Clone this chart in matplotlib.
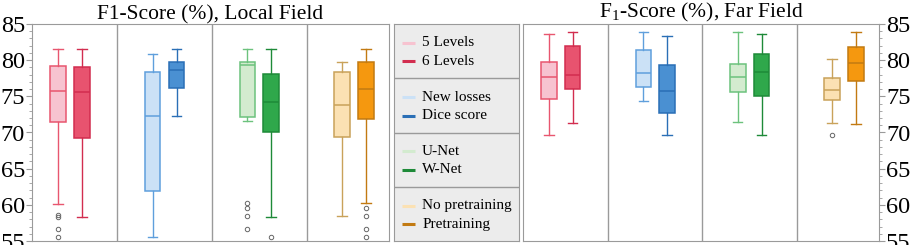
"""Box plots of F1-score, local field vs far field, with a shared legend panel in between."""
import matplotlib

matplotlib.use("Agg")
import matplotlib.pyplot as plt
from matplotlib.ticker import MultipleLocator

plt.rcParams["font.family"] = ["Liberation Serif", "DejaVu Serif"]
plt.rcParams["mathtext.fontset"] = "custom"
plt.rcParams["mathtext.rm"] = "Liberation Serif"

LABELS = ["5 Levels", "6 Levels", "New losses", "Dice score",
          "U-Net", "W-Net", "No pretraining", "Pretraining"]
FILLS = ["#f7c3d0", "#e8536f", "#cbe1f6", "#4a90d2",
         "#d3ebcf", "#2fa84b", "#fbe1b3", "#f5980f"]
EDGES = ["#e8566f", "#d22d4f", "#5f9fdc", "#2a6fb6",
         "#6cc27d", "#1e8a38", "#c9a25a", "#c27a12"]

# local field: whisker low, Q1, median, Q3, whisker high, outliers
LOCAL_LO = [60.1, 58.3, 55.6, 72.3, 71.6, 58.3, 58.4, 60.2]
LOCAL_Q1 = [71.5, 69.3, 61.9, 76.2, 72.1, 70.0, 69.4, 71.9]
LOCAL_MED = [75.8, 75.6, 72.3, 78.6, 79.3, 74.2, 73.8, 76.0]
LOCAL_Q3 = [79.2, 79.1, 78.3, 79.8, 79.8, 78.1, 78.4, 79.8]
LOCAL_HI = [81.5, 81.5, 80.8, 81.6, 81.5, 81.6, 79.8, 81.6]
LOCAL_FLIERS = [[58.6, 58.3, 56.6, 55.6], [], [], [],
                [60.3, 59.6, 58.4, 56.6], [55.6], [], [59.6, 58.4, 56.6, 55.6]]

# far field
FAR_LO = [69.7, 71.3, 74.4, 69.7, 71.4, 69.7, 71.3, 71.2]
FAR_Q1 = [74.6, 76.0, 76.3, 72.7, 75.6, 75.1, 74.5, 77.1]
FAR_MED = [77.7, 78.0, 78.2, 75.8, 77.7, 78.3, 75.9, 79.6]
FAR_Q3 = [79.7, 81.9, 81.4, 79.3, 79.5, 80.9, 77.6, 81.8]
FAR_HI = [83.6, 83.9, 83.9, 83.3, 83.9, 83.6, 80.2, 83.9]
FAR_FLIERS = [[], [], [], [], [], [], [69.7], []]

GRID = "#9a9a9a"
POSITIONS = [0.874, 1.126, 1.874, 2.126, 2.874, 3.126, 3.874, 4.126]


def draw_panel(ax, lo, q1, med, q3, hi, fliers, title, right=False):
    for i in range(len(LABELS)):
        stats = [dict(whislo=lo[i], q1=q1[i], med=med[i], q3=q3[i],
                      whishi=hi[i], fliers=fliers[i])]
        ec = EDGES[i]
        ax.bxp(stats, positions=[POSITIONS[i]], widths=0.165, patch_artist=True,
               boxprops=dict(facecolor=FILLS[i], edgecolor=ec, linewidth=1.1),
               medianprops=dict(color=ec, linewidth=1.1),
               whiskerprops=dict(color=ec, linewidth=1.0),
               capprops=dict(color=ec, linewidth=1.0),
               capwidths=0.1,
               flierprops=dict(marker="o", markersize=3.2, markerfacecolor="none",
                               markeredgecolor="#666666", markeredgewidth=0.7))
    for x in (1.5, 2.5, 3.5):
        ax.axvline(x, color=GRID, lw=1.0)
    ax.set_xlim(0.6, 4.37)
    ax.set_ylim(55, 85)
    ax.set_xticks([])
    ax.yaxis.set_major_locator(MultipleLocator(5))
    ax.yaxis.set_minor_locator(MultipleLocator(1))
    if right:
        ax.yaxis.tick_right()
    ax.tick_params(axis="y", which="major", length=4, color=GRID, labelsize=17.5, pad=1)
    ax.tick_params(axis="y", which="minor", length=2.5, color=GRID)
    for s in ax.spines.values():
        s.set_color(GRID)
    ax.set_title(title, fontsize=15.5, pad=2)


fig = plt.figure(figsize=(9.13, 2.45), dpi=100)
ax_l = fig.add_axes([32 / 913, 4 / 245, 357 / 913, 217 / 245])
ax_r = fig.add_axes([523 / 913, 4 / 245, 356 / 913, 217 / 245])
ax_leg = fig.add_axes([394 / 913, 4 / 245, 125 / 913, 217 / 245])

draw_panel(ax_l, LOCAL_LO, LOCAL_Q1, LOCAL_MED, LOCAL_Q3, LOCAL_HI, LOCAL_FLIERS,
           "F1-Score (%), Local Field")
draw_panel(ax_r, FAR_LO, FAR_Q1, FAR_MED, FAR_Q3, FAR_HI, FAR_FLIERS,
           r"F$_\mathregular{1}$-Score (%), Far Field", right=True)

# legend panel: four grey sections, two entries each
ax_leg.set_facecolor("#ececec")
ax_leg.set_xlim(0, 1)
ax_leg.set_ylim(0, 4)
ax_leg.set_xticks([])
ax_leg.set_yticks([])
for s in ax_leg.spines.values():
    s.set_color(GRID)
for y in (1, 2, 3):
    ax_leg.axhline(y, color=GRID, lw=1.0)
for i, label in enumerate(LABELS):
    sec = i // 2
    top = 4 - sec
    y = top - (0.35 if i % 2 == 0 else 0.69)
    ax_leg.plot([0.065, 0.168], [y, y], color=FILLS[i] if i % 2 == 0 else EDGES[i],
                lw=2.2, solid_capstyle="butt")
    ax_leg.text(0.225, y, label, fontsize=11, va="center", ha="left")

fig.savefig("out.png", dpi=100)
